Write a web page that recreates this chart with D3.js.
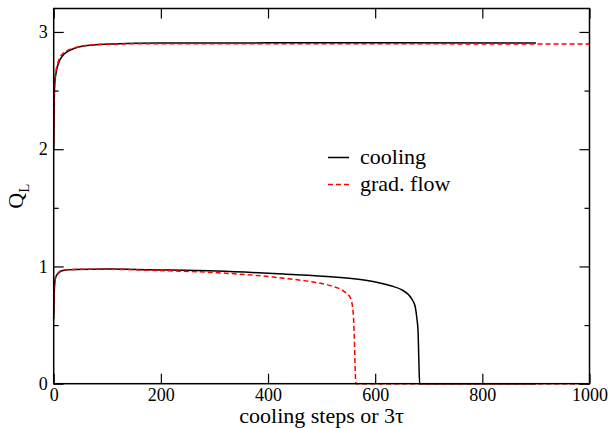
<!DOCTYPE html>
<html>
<head>
<meta charset="utf-8">
<script src="https://d3js.org/d3.v7.min.js"></script>
<style>
  body { margin: 0; background: #fff; }
  svg text { font-family: 'Liberation Serif', 'Times New Roman', serif; fill: #000; }
</style>
</head>
<body>
<svg id="chart" width="611" height="428"></svg>
<script>
// steps (x) and Q_L values
var upCoolX  = [0, 1, 2, 4, 8, 17, 39, 70, 114, 200, 400, 600, 900];
var upCoolY  = [2.0, 2.42, 2.56, 2.64, 2.72, 2.80, 2.86, 2.887, 2.898, 2.905, 2.907, 2.907, 2.905];
var upFlowX  = [0, 1, 2, 4, 8, 17, 39, 70, 114, 200, 400, 600, 800, 1000];
var upFlowY  = [2.05, 2.45, 2.58, 2.66, 2.74, 2.815, 2.865, 2.888, 2.897, 2.9, 2.9, 2.899, 2.898, 2.897];

var lowCoolX = [0, 1, 2, 4, 8, 17, 40, 100, 180, 305, 429, 523, 585, 629, 650, 662, 670, 675, 678, 680, 681.5, 683, 900];
var lowCoolY = [0.55, 0.78, 0.86, 0.91, 0.94, 0.965, 0.974, 0.978, 0.972, 0.961, 0.935, 0.91, 0.88, 0.835, 0.80, 0.76, 0.71, 0.65, 0.55, 0.45, 0.2, 0, 0];
var lowFlowX = [0, 1, 2, 4, 8, 17, 40, 100, 180, 305, 429, 479, 523, 541, 554, 559, 561, 563, 564, 1000];
var lowFlowY = [0.6, 0.8, 0.87, 0.92, 0.945, 0.968, 0.975, 0.976, 0.967, 0.947, 0.90, 0.87, 0.827, 0.79, 0.73, 0.60, 0.40, 0.08, 0, 0];

var xTicks = [0, 200, 400, 600, 800, 1000];
var yTicks = [0, 1, 2, 3];
var yMinor = [0.5, 1.5, 2.5];
var legendNames = ["cooling", "grad. flow"];

var svg = d3.select('#chart');
var pL = 53.7, pR = 589.5, pT = 8.5, pB = 383.7;

var x = d3.scaleLinear().domain([0, 1000]).range([pL, pR]);
var y = d3.scaleLinear().domain([0, 3.2]).range([pB, pT]);

function zip(xs, ys) { return xs.map(function(d, i){ return [d, ys[i]]; }); }

var line = d3.line()
  .x(function(d){ return x(d[0]); })
  .y(function(d){ return y(d[1]); })
  .curve(d3.curveMonotoneX);

var plot = svg.append('g');

// curves
plot.append('path').attr('d', line(zip(lowCoolX, lowCoolY)))
  .attr('fill', 'none').attr('stroke', '#000').attr('stroke-width', 1.5);
plot.append('path').attr('d', line(zip(upCoolX, upCoolY)))
  .attr('fill', 'none').attr('stroke', '#000').attr('stroke-width', 1.5);
plot.append('path').attr('d', line(zip(lowFlowX, lowFlowY)))
  .attr('fill', 'none').attr('stroke', '#ff0000').attr('stroke-width', 1.5)
  .attr('stroke-dasharray', '5,3');
plot.append('path').attr('d', line(zip(upFlowX, upFlowY)))
  .attr('fill', 'none').attr('stroke', '#ff0000').attr('stroke-width', 1.5)
  .attr('stroke-dasharray', '5,3');

// axes, ticks pointing inward
function style(g) {
  g.select('.domain').remove();
  g.selectAll('line').attr('stroke', '#000').attr('stroke-width', 1.2);
}
var fmt = d3.format('d');

svg.append('g').attr('transform', 'translate(0,' + pB + ')')
  .call(d3.axisBottom(x).tickValues(xTicks).tickFormat(fmt).tickSizeInner(-10).tickSizeOuter(0).tickPadding(5))
  .call(style)
  .selectAll('text').attr('font-size', 18).attr('dy', '0.71em');
svg.append('g').attr('transform', 'translate(0,' + pT + ')')
  .call(d3.axisTop(x).tickValues(xTicks).tickSizeInner(-10).tickSizeOuter(0).tickFormat(''))
  .call(style);

svg.append('g').attr('transform', 'translate(' + pL + ',0)')
  .call(d3.axisLeft(y).tickValues(yTicks).tickFormat(fmt).tickSizeInner(-10).tickSizeOuter(0).tickPadding(6))
  .call(style)
  .selectAll('text').attr('font-size', 18);
svg.append('g').attr('transform', 'translate(' + pL + ',0)')
  .call(d3.axisLeft(y).tickValues(yMinor).tickSizeInner(-5).tickSizeOuter(0).tickFormat(''))
  .call(style);
svg.append('g').attr('transform', 'translate(' + pR + ',0)')
  .call(d3.axisRight(y).tickValues(yTicks).tickSizeInner(-10).tickSizeOuter(0).tickFormat(''))
  .call(style);
svg.append('g').attr('transform', 'translate(' + pR + ',0)')
  .call(d3.axisRight(y).tickValues(yMinor).tickSizeInner(-5).tickSizeOuter(0).tickFormat(''))
  .call(style);

// frame
svg.append('rect')
  .attr('x', pL).attr('y', pT)
  .attr('width', pR - pL).attr('height', pB - pT)
  .attr('fill', 'none').attr('stroke', '#000').attr('stroke-width', 1.5);

// axis titles
svg.append('text')
  .attr('x', (pL + pR) / 2).attr('y', 423)
  .attr('text-anchor', 'middle').attr('font-size', 22)
  .text('cooling steps or 3\u03c4');

var yl = svg.append('text')
  .attr('transform', 'translate(23,' + ((pT + pB) / 2) + ') rotate(-90)')
  .attr('text-anchor', 'middle').attr('font-size', 22);
yl.append('tspan').text('Q');
yl.append('tspan').attr('font-size', 15).attr('dy', 6).text('L');

// legend
var leg = svg.append('g');
leg.selectAll('line').data(legendNames).enter().append('line')
  .attr('x1', 328).attr('x2', 349)
  .attr('y1', function(d, i){ return 157.5 + i * 27; })
  .attr('y2', function(d, i){ return 157.5 + i * 27; })
  .attr('stroke', function(d, i){ return i ? '#ff0000' : '#000'; })
  .attr('stroke-width', 1.5)
  .attr('stroke-dasharray', function(d, i){ return i ? '5,3' : null; });
leg.selectAll('text').data(legendNames).enter().append('text')
  .attr('x', 360)
  .attr('y', function(d, i){ return 164 + i * 27; })
  .attr('font-size', 22)
  .text(function(d){ return d; });
</script>
</body>
</html>
